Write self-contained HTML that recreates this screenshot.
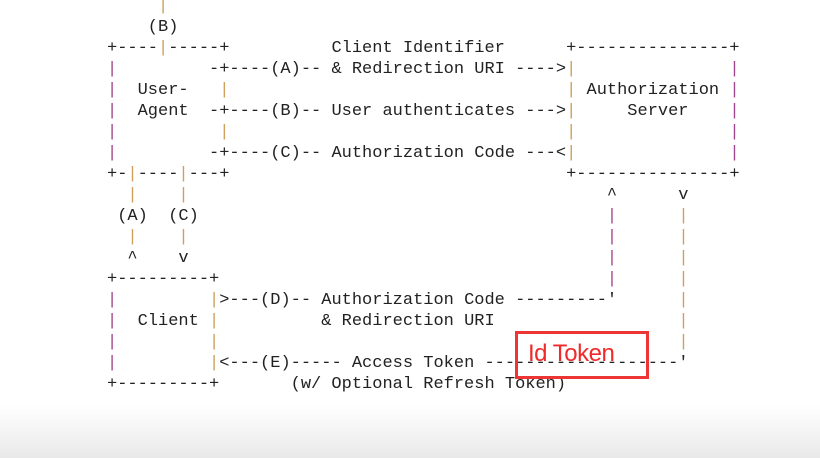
<!DOCTYPE html>
<html><head><meta charset="utf-8"><style>
html,body{margin:0;padding:0}
body{width:820px;height:458px;overflow:hidden;position:relative;background:linear-gradient(#fff 0,#fff 405px,#e9e9e9 458px)}
pre{position:absolute;left:107px;top:-4.5px;margin:0;font-family:"Liberation Mono",monospace;font-size:17px;letter-spacing:0;line-height:21px;color:#222}
.p{color:#a3488f}.t{color:#cf9f5c}
.box{position:absolute;left:515px;top:331px;width:128px;height:42px;border:3px solid #ee3535}
.lbl{position:absolute;left:528px;top:340px;font-family:"Liberation Sans",sans-serif;font-size:24px;font-weight:normal;color:#f02a2a;letter-spacing:-0.5px}
</style></head><body>
<pre>     <span class="t">|</span>
    (B)
+----<span class="t">|</span>-----+          Client Identifier      +---------------+
<span class="p">|</span>         -+----(A)-- &amp; Redirection URI ----&gt;<span class="t">|</span>               <span class="p">|</span>
<span class="p">|</span>  User-   <span class="t">|</span>                                 <span class="t">|</span> Authorization <span class="p">|</span>
<span class="p">|</span>  Agent  -+----(B)-- User authenticates ---&gt;<span class="t">|</span>     Server    <span class="p">|</span>
<span class="p">|</span>          <span class="t">|</span>                                 <span class="t">|</span>               <span class="p">|</span>
<span class="p">|</span>         -+----(C)-- Authorization Code ---&lt;<span class="t">|</span>               <span class="p">|</span>
+-<span class="t">|</span>----<span class="t">|</span>---+                                 +---------------+
  <span class="t">|</span>    <span class="t">|</span>                                         ^      v
 (A)  (C)                                        <span class="p">|</span>      <span class="t">|</span>
  <span class="t">|</span>    <span class="t">|</span>                                         <span class="p">|</span>      <span class="t">|</span>
  ^    v                                         <span class="p">|</span>      <span class="t">|</span>
+---------+                                      <span class="p">|</span>      <span class="t">|</span>
<span class="p">|</span>         <span class="t">|</span>&gt;---(D)-- Authorization Code ---------'      <span class="t">|</span>
<span class="p">|</span>  Client <span class="t">|</span>          &amp; Redirection URI                  <span class="t">|</span>
<span class="p">|</span>         <span class="t">|</span>                                             <span class="t">|</span>
<span class="p">|</span>         <span class="t">|</span>&lt;---(E)----- Access Token -------------------'
+---------+       (w/ Optional Refresh Token)</pre>
<div class="box"></div>
<div class="lbl">Id Token</div>
</body></html>
